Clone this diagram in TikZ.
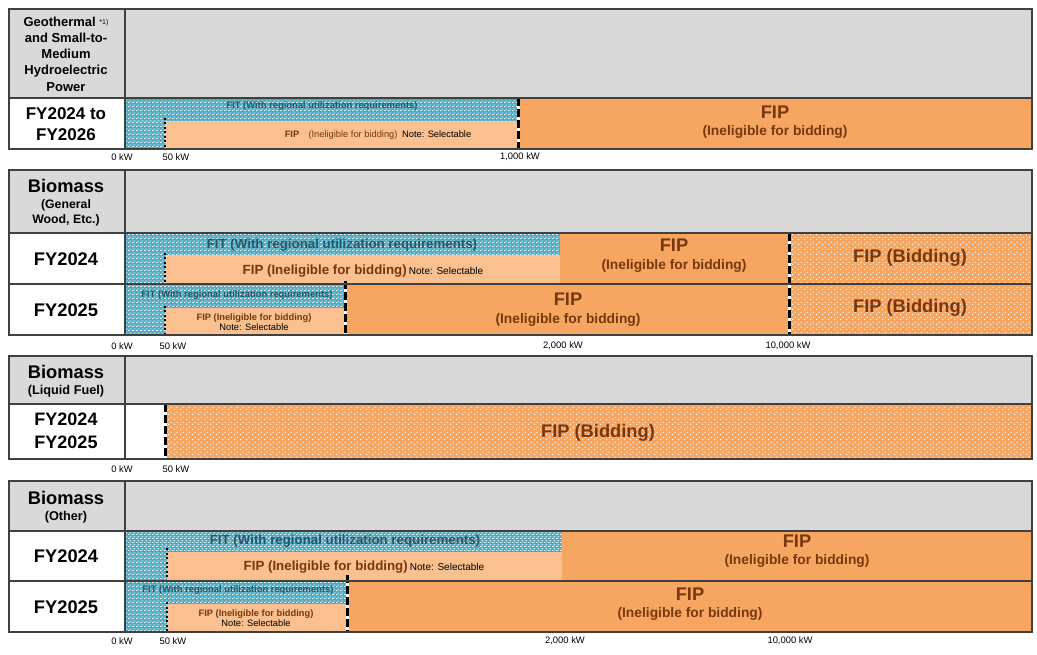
\documentclass[tikz,border=0pt]{standalone}
\usepackage{fontspec}
\setmainfont{Liberation Sans}
\usetikzlibrary{patterns}

\definecolor{hdrgray}{RGB}{217,217,217}
\definecolor{fitteal}{RGB}{75,172,198}
\definecolor{fittext}{RGB}{33,89,104}
\definecolor{fippeach}{RGB}{250,192,143}
\definecolor{fiporange}{RGB}{247,166,97}
\definecolor{fiptext}{RGB}{120,55,12}
\definecolor{edge}{RGB}{64,64,64}

\pgfdeclarepatternformonly{fitbricks}{\pgfpointorigin}{\pgfqpoint{4pt}{4pt}}{\pgfqpoint{4pt}{4pt}}{%
  \pgfpathrectangle{\pgfqpoint{0pt}{0pt}}{\pgfqpoint{2pt}{1pt}}%
  \pgfpathrectangle{\pgfqpoint{2pt}{2pt}}{\pgfqpoint{2pt}{1pt}}%
  \pgfusepath{fill}}
\pgfdeclarepatternformonly{biddots}{\pgfpointorigin}{\pgfqpoint{6pt}{5pt}}{\pgfqpoint{6pt}{5pt}}{%
  \pgfpathrectangle{\pgfqpoint{0pt}{0pt}}{\pgfqpoint{1.2pt}{1.2pt}}%
  \pgfpathrectangle{\pgfqpoint{3pt}{2.5pt}}{\pgfqpoint{1.2pt}{1.2pt}}%
  \pgfusepath{fill}}

\begin{document}
\begin{tikzpicture}[x=1pt, y=-1pt]
    % Styles
    \tikzstyle{hdr} = [fill=hdrgray]
    \tikzstyle{fit} = [fill=fitteal, postaction={pattern=fitbricks, pattern color=white}]
    \tikzstyle{peach} = [fill=fippeach]
    \tikzstyle{fip} = [fill=fiporange]
    \tikzstyle{bid} = [fill=fiporange, postaction={pattern=biddots, pattern color=white}]
    \tikzstyle{frame} = [draw=edge, line width=1.3pt]
    \tikzstyle{cut50} = [line width=2.5pt, dash pattern=on 2pt off 2.5pt]
    \tikzstyle{cutbig} = [line width=3pt, dash pattern=on 8pt off 3pt, preaction={draw=white, line width=3pt, solid}]
    \tikzstyle{year} = [font=\fontsize{18.3}{22}\selectfont\bfseries, align=center]
    \tikzstyle{kind} = [font=\fontsize{13}{16.2}\selectfont\bfseries, align=center]
    \tikzstyle{sub} = [font=\fontsize{12.7}{15}\selectfont\bfseries, align=center]
    \tikzstyle{fitbig} = [text=fittext, font=\fontsize{13.3}{15}\selectfont\bfseries]
    \tikzstyle{fitsmall} = [text=fittext, font=\fontsize{9.4}{11}\selectfont\bfseries]
    \tikzstyle{fipbig} = [text=fiptext, font=\fontsize{18.3}{21}\selectfont\bfseries]
    \tikzstyle{fipsub} = [text=fiptext, font=\fontsize{13.8}{16}\selectfont\bfseries]
    \tikzstyle{note} = [font=\fontsize{9.3}{11}\selectfont]
    \tikzstyle{tick} = [font=\fontsize{9.4}{11}\selectfont]

    \useasboundingbox (0,0) rectangle (1037,655);

    % Geothermal and hydro
    \fill[hdr] (9,9) rectangle (1032,98);
    \fill[fit] (125,98) rectangle (518,121);
    \fill[fit] (125,121) rectangle (165,149);
    \fill[peach] (165,121) rectangle (518,149);
    \fill[fip] (518,98) rectangle (1032,149);
    \draw[cut50] (165,118) -- (165,149);
    \draw[cutbig] (518,98) -- (518,149);
    \draw[frame] (9,9) rectangle (1032,149) (9,98) -- (1032,98) (125,9) -- (125,149);

    \node[kind] (geo) at (66,54) {Geothermal {\fontsize{7}{8}\selectfont\mdseries\raisebox{2pt}{*1)}}\\and Small-to-\\Medium\\Hydroelectric\\Power};
    \node[year, font=\fontsize{17}{21}\selectfont\bfseries] (geoyr) at (66,124) {FY2024 to\\FY2026};
    \node[fitsmall] (geofit) at (322,106) {FIT (With regional utilization requirements)};
    \node[note, text=fiptext] (geopeach) at (378,135) {\textbf{FIP}\quad(Ineligible for bidding)\enspace\textcolor{black}{Note: Selectable}};
    \node[fipbig] (geofip) at (775,112) {FIP};
    \node[fipsub] (geofipsub) at (775,132) {(Ineligible for bidding)};
    \node[tick] (geot0) at (122,157) {0 kW};
    \node[tick] (geot50) at (176,157) {50 kW};
    \node[tick] (geot1k) at (520,157) {1,000 kW};

    % Biomass, general wood
    \fill[hdr] (9,170) rectangle (1032,233);
    \fill[fit] (125,233) rectangle (560,255);
    \fill[fit] (125,255) rectangle (165,284);
    \fill[peach] (165,255) rectangle (560,284);
    \fill[fip] (560,233) rectangle (789,284);
    \fill[bid] (789,233) rectangle (1032,284);
    \fill[fit] (125,284) rectangle (345,308);
    \fill[fit] (125,308) rectangle (165,335);
    \fill[peach] (165,308) rectangle (345,335);
    \fill[fip] (345,284) rectangle (789,335);
    \fill[bid] (789,284) rectangle (1032,335);
    \draw[cut50] (165,253) -- (165,284);
    \draw[cut50] (165,306) -- (165,335);
    \draw[cutbig] (345,281) -- (345,335);
    \draw[cutbig] (789,233) -- (789,335);
    \draw[frame] (9,170) rectangle (1032,335) (9,233) -- (1032,233) (9,284) -- (1032,284) (125,170) -- (125,335);

    \node[year] (wood) at (66,186) {Biomass};
    \node[sub, font=\fontsize{12.3}{15}\selectfont\bfseries] (woodsub) at (66,213) {(General\\Wood, Etc.)};
    \node[year] (wood24) at (66,259) {FY2024};
    \node[year] (wood25) at (66,310) {FY2025};
    \node[fitbig] (wood24fit) at (342,245) {FIT (With regional utilization requirements)};
    \node[fitbig, text=fiptext] (wood24peach) at (363,271) {FIP (Ineligible for bidding)\,\textcolor{black}{\mdseries\fontsize{10}{12}\selectfont Note: Selectable}};
    \node[fipbig] (wood24fip) at (674,245) {FIP};
    \node[fipsub] (wood24fipsub) at (674,266) {(Ineligible for bidding)};
    \node[fipbig] (wood24bid) at (910,258) {FIP (Bidding)};
    \node[fitsmall] (wood25fit) at (237,295) {FIT (With regional utilization requirements)};
    \node[note, text=fiptext, align=center, font=\fontsize{9.3}{10.5}\selectfont] (wood25peach) at (254,322) {\textbf{FIP (Ineligible for bidding)}\\\textcolor{black}{Note: Selectable}};
    \node[fipbig] (wood25fip) at (568,299) {FIP};
    \node[fipsub] (wood25fipsub) at (568,320) {(Ineligible for bidding)};
    \node[fipbig] (wood25bid) at (910,308) {FIP (Bidding)};
    \node[tick] (woodt0) at (122,346) {0 kW};
    \node[tick] (woodt50) at (173,346) {50 kW};
    \node[tick] (woodt2k) at (563,346) {2,000 kW};
    \node[tick] (woodt10k) at (788,346) {10,000 kW};

    % Biomass, liquid fuel
    \fill[hdr] (9,356) rectangle (1032,404);
    \fill[bid] (165,404) rectangle (1032,459);
    \draw[cutbig] (165,404) -- (165,459);
    \draw[frame] (9,356) rectangle (1032,459) (9,404) -- (1032,404) (125,356) -- (125,459);

    \node[year] (liquid) at (66,372) {Biomass};
    \node[sub] (liquidsub) at (66,391) {(Liquid Fuel)};
    \node[year, font=\fontsize{18}{23}\selectfont\bfseries] (liquidyr) at (66,431) {FY2024\\FY2025};
    \node[fipbig] (liquidbid) at (598,433) {FIP (Bidding)};
    \node[tick] (liquidt0) at (122,469) {0 kW};
    \node[tick] (liquidt50) at (176,469) {50 kW};

    % Biomass, other
    \fill[hdr] (9,481) rectangle (1032,531);
    \fill[fit] (125,531) rectangle (562,552);
    \fill[fit] (125,552) rectangle (167,581);
    \fill[peach] (167,552) rectangle (562,581);
    \fill[fip] (562,531) rectangle (1032,581);
    \fill[fit] (125,581) rectangle (347,604);
    \fill[fit] (125,604) rectangle (167,632);
    \fill[peach] (167,604) rectangle (347,632);
    \fill[fip] (347,581) rectangle (1032,632);
    \draw[cut50] (167,548) -- (167,581);
    \draw[cut50] (167,602) -- (167,632);
    \draw[cutbig] (347,575) -- (347,632);
    \draw[frame] (9,481) rectangle (1032,632) (9,531) -- (1032,531) (9,581) -- (1032,581) (125,481) -- (125,632);

    \node[year] (other) at (66,498) {Biomass};
    \node[sub] (othersub) at (66,517) {(Other)};
    \node[year] (other24) at (66,556) {FY2024};
    \node[year] (other25) at (66,607) {FY2025};
    \node[fitbig] (other24fit) at (345,541) {FIT (With regional utilization requirements)};
    \node[fitbig, text=fiptext] (other24peach) at (364,567) {FIP (Ineligible for bidding)\,\textcolor{black}{\mdseries\fontsize{10}{12}\selectfont Note: Selectable}};
    \node[fipbig] (other24fip) at (797,541) {FIP};
    \node[fipsub] (other24fipsub) at (797,561) {(Ineligible for bidding)};
    \node[fitsmall] (other25fit) at (238,590) {FIT (With regional utilization requirements)};
    \node[note, text=fiptext, align=center, font=\fontsize{9.3}{10.5}\selectfont] (other25peach) at (256,618) {\textbf{FIP (Ineligible for bidding)}\\\textcolor{black}{Note: Selectable}};
    \node[fipbig] (other25fip) at (690,594) {FIP};
    \node[fipsub] (other25fipsub) at (690,614) {(Ineligible for bidding)};
    \node[tick] (othert0) at (122,641) {0 kW};
    \node[tick] (othert50) at (173,641) {50 kW};
    \node[tick] (othert2k) at (565,641) {2,000 kW};
    \node[tick] (othert10k) at (790,641) {10,000 kW};
\end{tikzpicture}
\end{document}
